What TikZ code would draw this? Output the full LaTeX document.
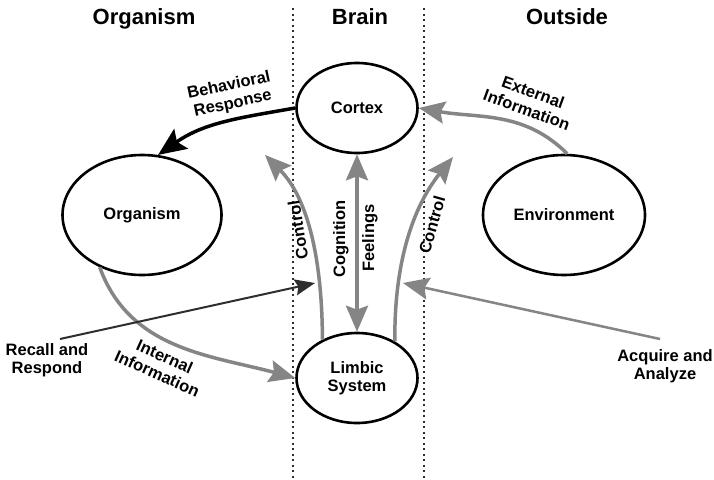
\documentclass[tikz,border=0pt]{standalone}
\usepackage{fontspec}
\setmainfont{Liberation Sans}
\usetikzlibrary{shapes.geometric,arrows.meta,positioning}
\definecolor{arrowgray}{HTML}{858585}
\definecolor{darkline}{HTML}{2E2E2E}

\begin{document}
\begin{tikzpicture}[x=1pt,y=-1pt,node distance=270pt,
  blob/.style={ellipse,draw,line width=2.6pt,inner sep=0pt,align=center,font=\fontsize{16.5}{18.5}\selectfont\bfseries},
  lbl/.style={inner sep=0pt,align=center,font=\fontsize{16.5}{18.5}\selectfont\bfseries},
  heading/.style={anchor=base,font=\fontsize{22}{24}\selectfont\bfseries},
  divider/.style={darkline,line width=1.2pt,dash pattern=on 2pt off 3.5pt},
  flow/.style={arrowgray,line width=3.5pt,-{Stealth[length=26pt,width=22pt,inset=4pt]}},
  twoway/.style={arrowgray,line width=3.5pt,{Stealth[length=26pt,width=22pt,inset=4pt]}-{Stealth[length=26pt,width=22pt,inset=4pt]}},
  response/.style={black,line width=3.5pt,-{Stealth[length=28pt,width=24pt,inset=5pt]}},
  recall/.style={darkline,line width=2pt,-{Stealth[length=20pt,width=16pt,inset=3pt]}}]
  \path[use as bounding box,fill=white] (0,0) rectangle (714,479);

  \node[heading] (h1) at (144,24) {Organism};
  \node[heading] (h2) at (360,24) {Brain};
  \node[heading] (h3) at (567,24) {Outside};
  \draw[divider] (293,8) -- (293,479);
  \draw[divider] (424,8) -- (424,479);

  \node[blob,minimum width=121pt,minimum height=90pt] (cortex) at (357,108) {Cortex};
  \node[blob,minimum width=121pt,minimum height=90pt] (limbic) [below of=cortex] {Limbic\\System};
  \node[blob,minimum width=159pt,minimum height=120pt] (organism) at (142,215) {Organism};
  \node[blob,minimum width=162pt,minimum height=120pt] (environment) at (564,215) {Environment};

  \node[lbl] (recall) at (47,360) {Recall and\\Respond};
  \node[lbl] (acquire) at (665,366) {Acquire and\\Analyze};
  \coordinate (recallout) at (60,339);
  \coordinate (recallin) at (315,283);
  \coordinate (acquireout) at (660,339);
  \coordinate (acquirein) at (403,283);
  \coordinate (ctrltip1) at (265,155);
  \coordinate (ctrltip2) at (453,157);

  \draw[response] (cortex.west) to[out=190,in=35] (organism.75);
  \draw[flow] (environment.87) to[out=135,in=-10] (cortex.east);
  \draw[flow] (organism.231) to[out=-70,in=165] (limbic.west);
  \draw[flow] (limbic.132) .. controls (322,250) and (305,195) .. (ctrltip1);
  \draw[flow] (limbic.44) .. controls (394,265) and (412,208) .. (ctrltip2);
  \draw[twoway] (cortex.south) -- (limbic.north);
  \draw[recall] (recallout) -- (recallin);
  \draw[flow,line width=2.5pt] (acquireout) -- (acquirein);

  \node[lbl,rotate=12] (resp) at (231,95) {Behavioral\\Response};
  \node[lbl,rotate=-20] (ext) at (530,101) {External\\Information};
  \node[lbl,rotate=-24] (int) at (161,365) {Internal\\Information};
  \node[lbl,rotate=99] (ctrl1) at (298,230) {Control};
  \node[lbl,rotate=74] (ctrl2) at (432,225) {Control};
  \node[lbl,rotate=90] (cog) at (341,239) {Cognition};
  \node[lbl,rotate=90] (feel) at (370,238) {Feelings};
\end{tikzpicture}
\end{document}
